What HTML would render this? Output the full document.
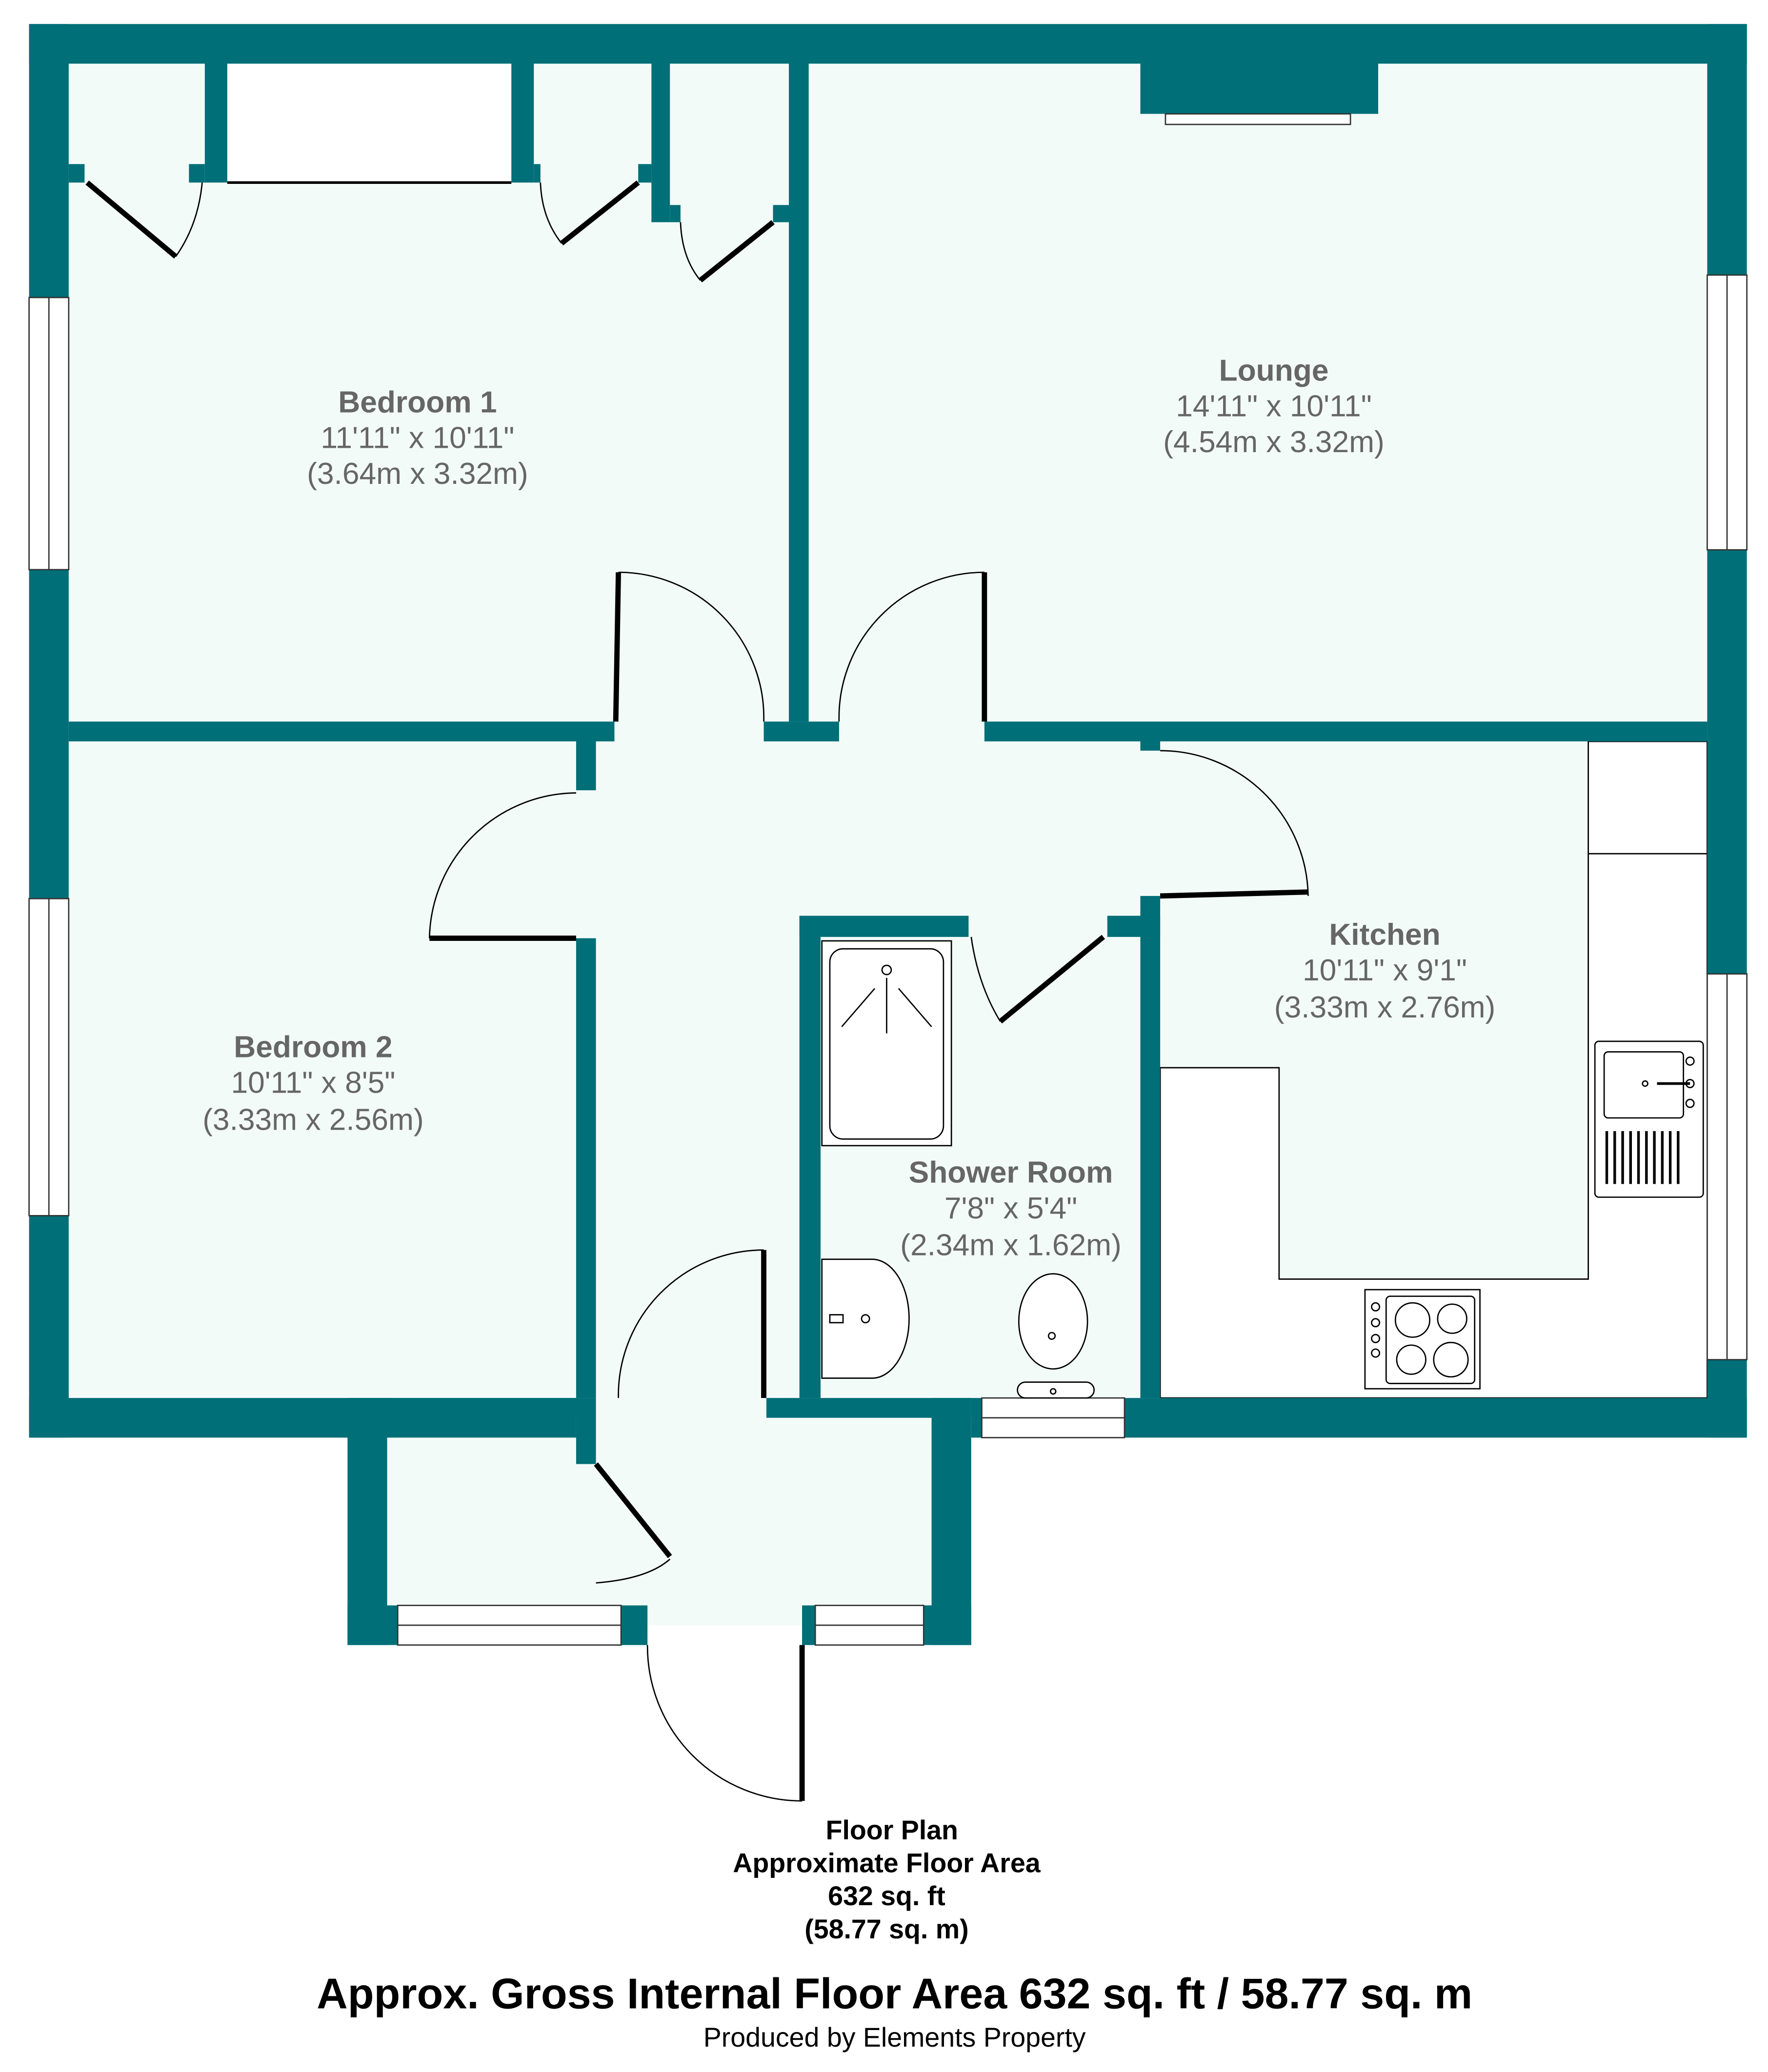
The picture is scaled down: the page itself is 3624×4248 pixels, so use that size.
<!DOCTYPE html>
<html><head><meta charset="utf-8"><style>html,body{margin:0;padding:0;background:#fff}svg{display:block}</style></head><body>
<svg width="3624" height="4248" viewBox="0 0 1338 1568" xmlns="http://www.w3.org/2000/svg" font-family="Liberation Sans, Arial, sans-serif">
<rect width="1338" height="1568" fill="#fff"/>
<g fill="#f3fbf8">
<rect x="52" y="48" width="1240" height="1010"/>
<rect x="440" y="1050" width="150" height="30"/>
<rect x="293" y="1073" width="412" height="142"/>
<rect x="470" y="1215" width="137" height="15"/>
</g>
<g fill="#fff" stroke="#000" stroke-width="1">
<rect x="172" y="48" width="215" height="90" stroke="none"/>
<line x1="172" y1="138" x2="387" y2="138" stroke-width="2"/>
<path d="M878 808 H968 V968 H1202 V561 H1292 V1058 H878 Z"/>
<line x1="1202" y1="646" x2="1292" y2="646"/>
</g>
<g fill="#006f77">
<rect x="22" y="18" width="1300" height="30"/>
<rect x="22" y="18" width="30" height="1070"/>
<rect x="1292" y="18" width="30" height="1070"/>
<rect x="22" y="1058" width="414" height="30"/>
<rect x="851" y="1058" width="471" height="30"/>
<rect x="735" y="1058" width="8" height="30"/>
<rect x="155" y="48" width="17" height="90"/>
<rect x="387" y="48" width="17" height="90"/>
<rect x="52" y="124" width="12" height="14"/>
<rect x="143" y="124" width="12" height="14"/>
<rect x="404" y="124" width="5" height="14"/>
<rect x="483" y="124" width="10" height="14"/>
<rect x="493" y="48" width="14" height="120"/>
<rect x="507" y="155" width="8" height="13"/>
<rect x="585" y="155" width="12" height="13"/>
<rect x="597" y="48" width="15" height="498"/>
<rect x="863" y="48" width="180" height="38"/>
<rect x="52" y="546" width="413" height="15"/>
<rect x="578" y="546" width="57" height="15"/>
<rect x="745" y="546" width="547" height="15"/>
<rect x="436" y="561" width="15" height="37"/>
<rect x="436" y="710" width="15" height="348"/>
<rect x="863" y="561" width="15" height="7"/>
<rect x="863" y="678" width="15" height="380"/>
<rect x="605" y="693" width="16" height="365"/>
<rect x="605" y="693" width="128" height="16"/>
<rect x="838" y="693" width="40" height="16"/>
<rect x="580" y="1058" width="155" height="15"/>
<rect x="263" y="1058" width="30" height="187"/>
<rect x="263" y="1058" width="173" height="15"/>
<rect x="436" y="1058" width="15" height="50"/>
<rect x="705" y="1058" width="30" height="187"/>
<rect x="263" y="1215" width="38" height="30"/>
<rect x="470" y="1215" width="20" height="30"/>
<rect x="607" y="1215" width="10" height="30"/>
<rect x="699" y="1215" width="36" height="30"/>
</g>
<g fill="#fff" stroke="#333" stroke-width="1">
<rect x="22" y="225" width="30" height="206"/><line x1="37" y1="225" x2="37" y2="431"/>
<rect x="22" y="680" width="30" height="240"/><line x1="37" y1="680" x2="37" y2="920"/>
<rect x="1292" y="208" width="30" height="208"/><line x1="1307" y1="208" x2="1307" y2="416"/>
<rect x="1292" y="737" width="30" height="292"/><line x1="1307" y1="737" x2="1307" y2="1029"/>
<rect x="743" y="1058" width="108" height="30"/><line x1="743" y1="1073" x2="851" y2="1073"/>
<rect x="301" y="1215" width="169" height="30"/><line x1="301" y1="1230" x2="470" y2="1230"/>
<rect x="617" y="1215" width="82" height="30"/><line x1="617" y1="1230" x2="699" y2="1230"/>
<rect x="882" y="86" width="140" height="8"/>
</g>
<g fill="none" stroke="#000" stroke-width="1">
<path d="M153 138 Q150 170 133 194"/>
<path d="M409 138 Q410 165 425 184"/>
<path d="M515 168 Q516 195 530 212"/>
<path d="M468 433 A110 110 0 0 1 578 546"/>
<path d="M745 433 A110 110 0 0 0 635 546"/>
<path d="M436 600 A112 112 0 0 0 325 710"/>
<path d="M878 568 A112 112 0 0 1 990 678"/>
<path d="M735 709 Q740 745 757 773"/>
<path d="M578 946 A110 110 0 0 0 468 1058"/>
<path d="M507 1180 Q490 1195 451 1198"/>
<path d="M490 1245 A117 117 0 0 0 607 1363"/>
</g>
<g stroke="#000" stroke-width="4" fill="none">
<line x1="66" y1="138" x2="133" y2="194"/>
<line x1="483" y1="138" x2="425" y2="184"/>
<line x1="585" y1="168" x2="530" y2="212"/>
<line x1="468" y1="433" x2="466" y2="546"/>
<line x1="745" y1="433" x2="745" y2="546"/>
<line x1="325" y1="710" x2="436" y2="710"/>
<line x1="878" y1="678" x2="990" y2="675"/>
<line x1="835" y1="709" x2="757" y2="773"/>
<line x1="578" y1="946" x2="578" y2="1058"/>
<line x1="451" y1="1108" x2="507" y2="1178"/>
<line x1="607" y1="1245" x2="607" y2="1363"/>
</g>
<g fill="#fff" stroke="#000" stroke-width="1">
<rect x="622" y="712" width="98" height="155"/>
<rect x="628" y="718" width="86" height="144" rx="10"/>
<path d="M622 953 H660 A28 45 0 0 1 660 1043 H622 Z"/>
<rect x="770" y="1046" width="58" height="12" rx="6"/>
<ellipse cx="797" cy="1000" rx="26" ry="36"/>
<rect x="1033" y="976" width="87" height="75"/>
<rect x="1049" y="981" width="67" height="66" rx="3"/>
<rect x="1207" y="788" width="82" height="118" rx="3"/>
<rect x="1214" y="796" width="60" height="50" rx="3"/>
</g>
<g fill="none" stroke="#000" stroke-width="1">
<circle cx="671" cy="734" r="3.5"/>
<line x1="671" y1="740" x2="671" y2="782"/><line x1="662" y1="748" x2="637" y2="777"/><line x1="680" y1="748" x2="705" y2="777"/>
<circle cx="796" cy="1011" r="2.5"/><circle cx="797" cy="1053" r="2"/>
<circle cx="655" cy="998" r="3"/><path d="M628 995 h10 v6 h-10z"/>
<circle cx="1069" cy="999" r="13"/><circle cx="1099" cy="998" r="11"/><circle cx="1068" cy="1029" r="11"/><circle cx="1098" cy="1029" r="13"/>
<circle cx="1041" cy="989" r="3"/><circle cx="1041" cy="1001" r="3"/><circle cx="1041" cy="1013" r="3"/><circle cx="1041" cy="1024" r="3"/>
<circle cx="1279" cy="803" r="3"/><circle cx="1279" cy="820" r="3"/><circle cx="1279" cy="835" r="3"/><line x1="1254" y1="820" x2="1279" y2="820" stroke-width="2"/><circle cx="1245" cy="820" r="2"/>
<path d="M1216 856v40M1222 856v40M1228 856v40M1234 856v40M1240 856v40M1246 856v40M1252 856v40M1258 856v40M1264 856v40M1270 856v40" stroke-width="2"/>
</g>
<g fill="#666" text-anchor="middle" font-size="23">
<text x="316" y="312" font-weight="bold">Bedroom 1</text>
<text x="316" y="339">11'11" x 10'11"</text>
<text x="316" y="366">(3.64m x 3.32m)</text>
<text x="964" y="288" font-weight="bold">Lounge</text>
<text x="964" y="315">14'11" x 10'11"</text>
<text x="964" y="342">(4.54m x 3.32m)</text>
<text x="237" y="800" font-weight="bold">Bedroom 2</text>
<text x="237" y="827">10'11" x 8'5"</text>
<text x="237" y="855">(3.33m x 2.56m)</text>
<text x="1048" y="715" font-weight="bold">Kitchen</text>
<text x="1048" y="742">10'11" x 9'1"</text>
<text x="1048" y="770">(3.33m x 2.76m)</text>
<text x="765" y="895" font-weight="bold">Shower Room</text>
<text x="765" y="922">7'8" x 5'4"</text>
<text x="765" y="950">(2.34m x 1.62m)</text>
</g>
<g fill="#000" text-anchor="middle" font-weight="bold" font-size="20.5">
<text x="675" y="1392">Floor Plan</text>
<text x="671" y="1417">Approximate Floor Area</text>
<text x="671" y="1442">632 sq. ft</text>
<text x="671" y="1467">(58.77 sq. m)</text>
<text x="677" y="1520" font-size="32.5">Approx. Gross Internal Floor Area 632 sq. ft / 58.77 sq. m</text>
<text x="677" y="1549" font-size="20.5" font-weight="normal">Produced by Elements Property</text>
</g>
</svg>
</body></html>
